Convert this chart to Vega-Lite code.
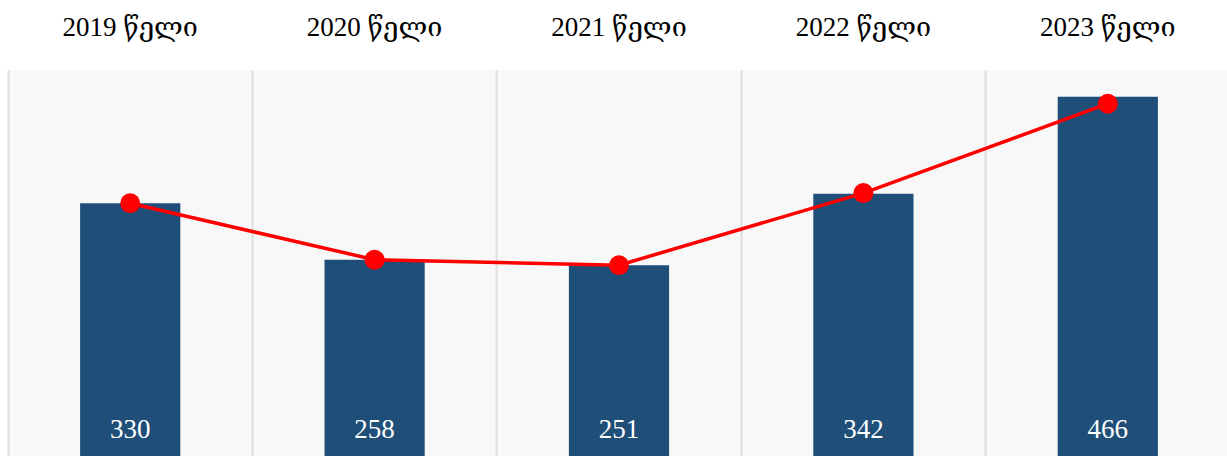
{
  "$schema": "https://vega.github.io/schema/vega-lite/v6.json",
  "autosize": {"type": "none"},
  "padding": {"left": 8, "top": 70, "right": 0, "bottom": 0},
  "width": 1222,
  "height": 392,
  "background": "#ffffff",
  "config": {
    "view": {"fill": "#f8f8f8", "stroke": null},
    "font": "Liberation Serif"
  },
  "data": {
    "values": [
      {"year": "2019 წელი", "value": 330, "line": 330},
      {"year": "2020 წელი", "value": 258, "line": 258},
      {"year": "2021 წელი", "value": 251, "line": 251},
      {"year": "2022 წელი", "value": 342, "line": 343},
      {"year": "2023 წელი", "value": 466, "line": 457}
    ]
  },
  "encoding": {
    "x": {
      "field": "year",
      "type": "nominal",
      "sort": null,
      "scale": {"paddingInner": 0, "paddingOuter": 0},
      "axis": {
        "orient": "top",
        "title": null,
        "labelAngle": 0,
        "domain": false,
        "ticks": false,
        "grid": true,
        "bandPosition": 0,
        "gridColor": "#dddddd",
        "gridWidth": 2,
        "labelFont": "Liberation Serif, DejaVu Serif",
        "labelFontSize": 27,
        "labelColor": "#000000",
        "labelPadding": 29
      }
    }
  },
  "layer": [
    {
      "mark": {"type": "bar", "color": "#1f4e78", "width": {"band": 0.41}},
      "encoding": {
        "y": {"field": "value", "type": "quantitative", "scale": {"domain": [0, 500], "nice": false}, "axis": null}
      }
    },
    {
      "mark": {"type": "text", "color": "#ffffff", "fontSize": 27, "font": "Liberation Serif", "baseline": "middle", "dy": -32},
      "encoding": {
        "y": {"datum": 0, "type": "quantitative", "scale": {"domain": [0, 500], "nice": false}},
        "text": {"field": "value", "type": "quantitative"}
      }
    },
    {
      "mark": {"type": "line", "color": "#ff0000", "strokeWidth": 3.5},
      "encoding": {
        "y": {"field": "line", "type": "quantitative", "scale": {"domain": [0, 500], "nice": false}}
      }
    },
    {
      "mark": {"type": "point", "filled": true, "color": "#ff0000", "opacity": 1, "size": 400},
      "encoding": {
        "y": {"field": "line", "type": "quantitative", "scale": {"domain": [0, 500], "nice": false}}
      }
    }
  ]
}
